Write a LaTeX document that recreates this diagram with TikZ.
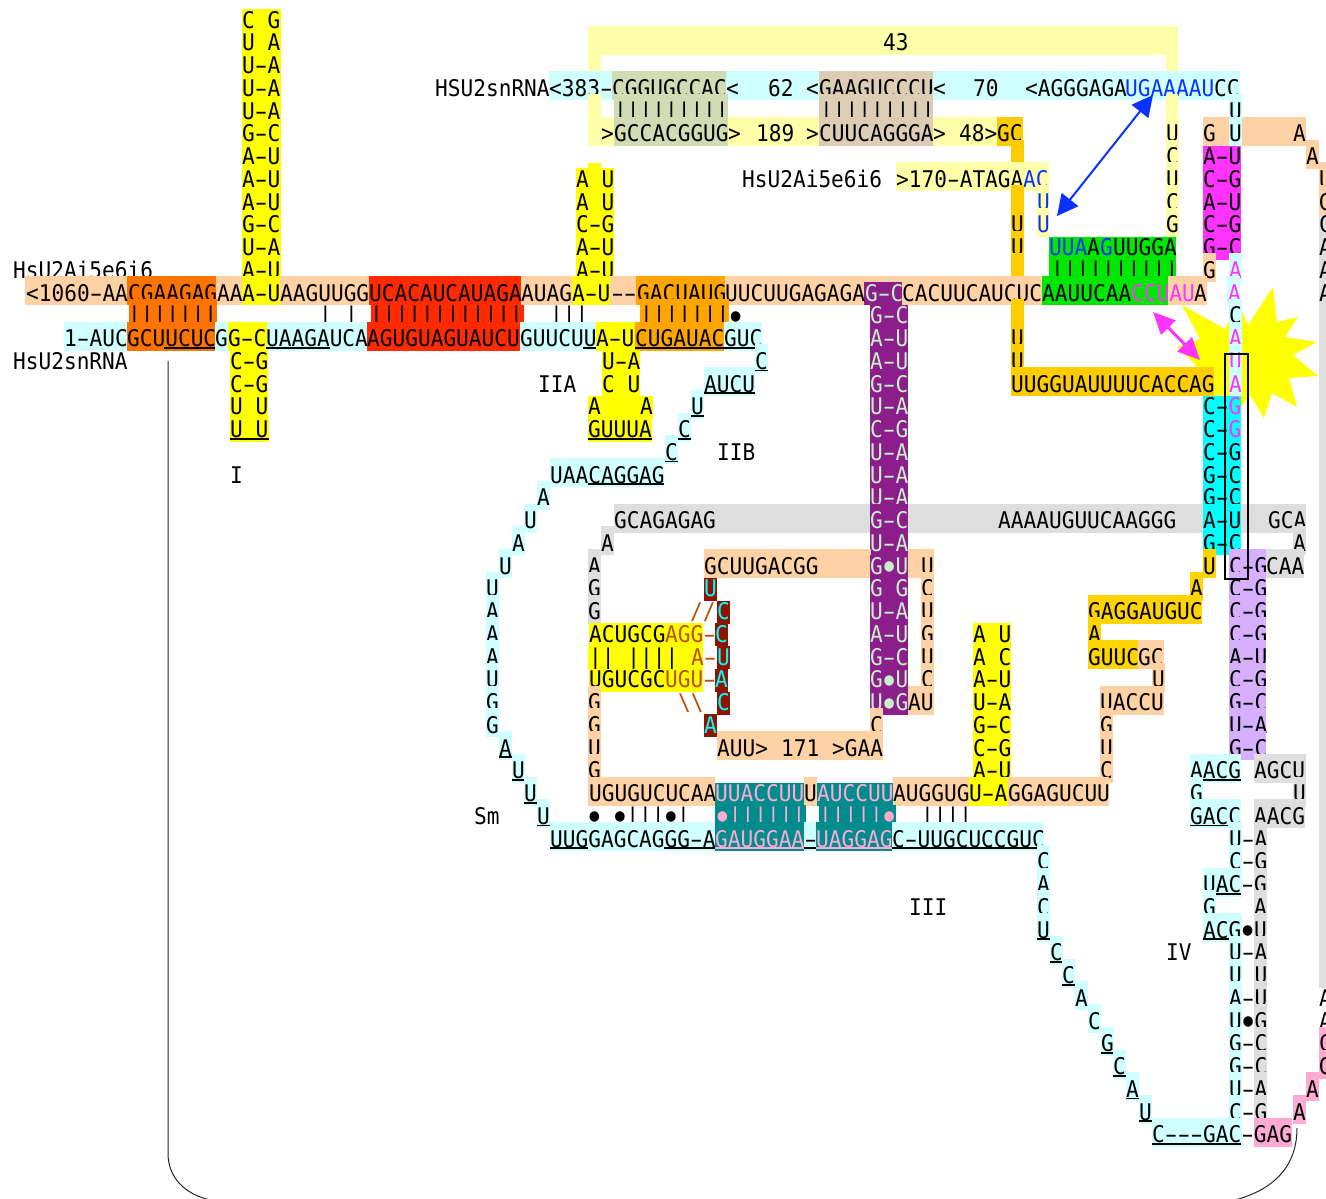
\documentclass[tikz,border=0pt]{standalone}
\usepackage{graphicx}
\usepackage{fontspec}
\usetikzlibrary{arrows.meta}
\newfontfamily\rnafont[FakeStretch=0.92]{DejaVu Sans Mono}
\definecolor{pea}{HTML}{FFD2A5}
\definecolor{pcy}{HTML}{D0FFFF}
\definecolor{ply}{HTML}{FFFFAA}
\definecolor{yel}{HTML}{FFFF00}
\definecolor{ora}{HTML}{FF7300}
\definecolor{red1}{HTML}{FF2A00}
\definecolor{orb}{HTML}{FFA500}
\definecolor{pur}{HTML}{8C1E8C}
\definecolor{pgr}{HTML}{C8F0C8}
\definecolor{sag}{HTML}{D2DCB4}
\definecolor{tan1}{HTML}{DCCDB4}
\definecolor{gol}{HTML}{FFCC00}
\definecolor{gob}{HTML}{FFD400}
\definecolor{mag}{HTML}{FF33FF}
\definecolor{cya}{HTML}{00FFFF}
\definecolor{grn}{HTML}{00E600}
\definecolor{dre}{HTML}{8C1400}
\definecolor{tea}{HTML}{008C8C}
\definecolor{pkc}{HTML}{FFAAD2}
\definecolor{gry}{HTML}{DEDEDE}
\definecolor{lpu}{HTML}{D7AFFF}
\definecolor{blu}{HTML}{0A32FF}
\definecolor{bro}{HTML}{B85000}
\newcounter{nn}
\tikzset{rna/.style={font=\rnafont\fontsize{22.96}{22.75}\selectfont,inner sep=0pt,anchor=base west}}
\newcommand\R[1]{\pgfmathsetmacro\ry{20+22.75*#1}}
\newcommand\bg[3]{\fill[#1] (#2,\ry-17) rectangle (#3,\ry+12);}
\newcommand\bh[3]{\fill[#1] (#2,\ry-11) rectangle (#3,\ry+12);}
% long dash: the hyphen of the strings is drawn wider, inside its own cell
\begingroup\catcode`\-=13
\gdef-{\makebox[12.72pt]{\scalebox{1.7}[1]{\char45}}}
\endgroup
\newcommand\B{\makebox[12.72pt]{\raisebox{2.6pt}{\scalebox{.76}{●}}}}
\newcommand\tx[2][black]{\def\txc{#1}\def\txx{#2}\begingroup\catcode`\-=13 \txi}
\newcommand\txi[1]{\endgroup\stepcounter{nn}\node[rna,text=\txc] (n\arabic{nn}) at (\txx,\ry+8.2) {#1};}
\newcommand\ul[3][black]{\fill[#1] (#2,\ry+8.4) rectangle (#3,\ry+10.2);}
\newcommand\cl[3]{\fill[#1] (#2,\ry-17) rectangle ({#2+12.8},\ry+12);\tx{#2}{#3}}
\newcommand\cu[3]{\cl{#1}{#2}{#3}\ul{#2}{#2+12.8}}
\newcommand\st{\bg{pcy}{1229}{1242}\bg{gry}{1254}{1267}\tx{1229}}
\begin{document}
\begin{tikzpicture}[x=1pt,y=-1pt]
\useasboundingbox (0,0) rectangle (1326,1199);
% starburst
\fill[yel] (1182,305)--(1225,329)--(1238,303)--(1248,325)--(1273,287)--(1277,322)--(1298,317)--(1285,337)--(1317,342)--(1293,355)--(1318,376)--(1289,378)--(1297,407)--(1272,393)--(1264,418)--(1250,395)--(1232,420)--(1222,395)--(1205,395)--(1196,365)--(1177,347)--(1200,339)--cycle;
% right grey strip
\fill[gry] (1319,208) rectangle (1326,988);
\R{0}\bh{yel}{242}{281}\tx{242}{C~G}
\R{1}\bg{ply}{588}{1178}\bh{yel}{242}{281}\tx{242}{U~A}\tx{883}{43}
\R{2}\bg{ply}{588}{601}\bg{ply}{1166}{1178}\bh{yel}{242}{281}\tx{242}{U-A}
\R{3}\tx{435}{HSU2snRNA}\bg{pcy}{549}{1240}\bg{sag}{612}{726}\bg{tan1}{819}{933}\bh{yel}{242}{281}\tx{242}{U-A}
\tx{549}{<383-}\tx{612}{CGGUGCCAC}\tx{726}{<}\tx{768}{62}\tx{806}{<}\tx{819}{GAAGUCCCU}\tx{933}{<}\tx{973}{70}\tx{1025}{<AGGGAGA}\tx[blu]{1125}{UGAAAAU}\tx{1214}{CC}
\R{4}\bh{yel}{242}{281}\tx{242}{U-A}\bg{ply}{588}{601}\bg{ply}{1166}{1178}\bg{sag}{614}{728}\bg{tan1}{819}{933}\tx{614}{|||||||||}\tx{820}{|||||||||}\cl{pcy}{1229}{U}
\R{5}\bh{yel}{242}{281}\tx{242}{G-C}\bg{ply}{588}{997}\bg{sag}{614}{728}\bg{tan1}{819}{933}\bg{gol}{997}{1023}\tx{601}{>}\tx{614}{GCCACGGUG}\tx{728}{>}\tx{756}{189}\tx{806}{>}\tx{819}{CUUCAGGGA}\tx{933}{>}\tx{959}{48>}\tx{997}{GC}\cl{ply}{1166}{U}\bg{pea}{1203}{1306}\tx{1203}{G}\cl{pcy}{1229}{U}\tx{1293}{A}
\R{6}\bh{yel}{242}{281}\tx{242}{A-U}\bg{gol}{1011}{1024}\cl{ply}{1166}{C}\bh{mag}{1203}{1241}\tx{1203}{A-U}\cl{pea}{1306}{A}\fill[yel] (588,163) rectangle (601,180);
\R{7}\bh{yel}{242}{281}\tx{242}{A-U}\tx{742}{HsU2Ai5e6i6}\bg{ply}{896}{1049}\tx{896}{>170-ATAGA}\tx[blu]{1023}{AC}\bh{yel}{576}{614}\tx{576}{A~U}\cl{ply}{1166}{U}\bh{mag}{1203}{1241}\tx{1203}{C-G}\cl{pea}{1319}{U}
\R{8}\bh{yel}{242}{281}\tx{242}{A-U}\bh{yel}{576}{614}\tx{576}{A~U}\bg{gol}{1011}{1024}\bg{ply}{1037}{1049}\tx[blu]{1037}{U}\cl{ply}{1166}{C}\bh{mag}{1203}{1241}\tx{1203}{A-U}\cl{pea}{1319}{G}
\R{9}\bh{yel}{242}{281}\tx{242}{G-C}\bh{yel}{576}{614}\tx{576}{C-G}\bg{gol}{1011}{1024}\tx{1011}{U}\bg{ply}{1037}{1049}\tx[blu]{1037}{U}\cl{ply}{1166}{G}\bh{mag}{1203}{1241}\tx{1203}{C-G}\tx{1319}{C}
\R{10}\bh{yel}{242}{281}\tx{242}{U-A}\bh{yel}{576}{614}\tx{576}{A-U}\bg{gol}{1011}{1024}\tx{1011}{U}\bh{grn}{1049}{1176}\tx[blu]{1049}{UUA}\tx{1087}{A}\tx[blu]{1100}{G}\tx{1113}{UUGGA}\bh{mag}{1203}{1241}\tx{1203}{G-C}\tx{1319}{A}
\R{11}\tx{13}{HsU2Ai5e6i6}\bh{yel}{242}{281}\tx{242}{A-U}\bh{yel}{576}{614}\tx{576}{A-U}\bg{gol}{1011}{1024}\bh{grn}{1049}{1176}\tx{1051}{||||||||||}\cl{pea}{1203}{G}\bg{pcy}{1229}{1242}\tx[mag]{1229}{A}\tx{1319}{A}
\R{12}\bg{pea}{25}{1207}\bg{ora}{127}{216}\bg{yel}{242}{280}\bg{red1}{369}{521}\bg{yel}{572}{610}\bg{orb}{636}{725}\bh{pur}{864}{902}\bg{grn}{1042}{1168}\bg{pcy}{1227}{1240}
\tx{26}{<1060-AA}\tx{128}{CGAAGAG}\tx{217}{AA}\tx{242}{A-U}\tx{280}{AAGUUGG}\tx{369}{UCACAUCAUAGA}\tx{521}{AUAG}\tx{572}{A-U}\tx{611}{--}\tx{637}{GACUAUG}\tx{725}{UUCUUGAGAGA}\tx[pgr]{865}{G-C}\tx{902}{CACUUCAUCUC}\tx{1042}{AAUUCAA}\tx[mag]{1131}{CCUAU}\tx{1194}{A}\tx[mag]{1228}{A}\tx{1319}{A}
\R{13}\bg{ora}{129}{217}\tx{128}{|||||||}\tx{319}{|}\tx{345}{|}\bh{red1}{371}{524}\tx{370}{||||||||||||}\tx{550}{|||}\bg{orb}{640}{729}\tx{640}{|||||||\B}\bh{pur}{870}{908}\tx[pgr]{870}{G-C}\bg{gol}{1011}{1024}\cl{pcy}{1229}{C}
\R{14}\bg{pcy}{64}{762}\bg{ora}{127}{215}\bg{yel}{228}{267}\bg{red1}{367}{520}\bg{yel}{596}{635}\bg{orb}{635}{724}\tx{64}{1-AUC}\tx{127}{GCUUCUC}\tx{215}{G}\tx{228}{G-C}\tx{266}{UAAGAUCA}\tx{367}{AGUGUAGUAUCU}\tx{520}{GUUCUU}\tx{596}{A-U}\tx{635}{CUGAUAC}\tx{724}{GUC}\ul{164}{215}\ul{266}{330}\ul{583}{596}\ul{635}{755}\bh{pur}{870}{908}\tx[pgr]{870}{A-U}\bg{gol}{1011}{1024}\tx{1011}{U}\bg{pcy}{1229}{1242}\tx[mag]{1229}{A}
\R{15}\tx{13}{HsU2snRNA}\bh{yel}{230}{268}\tx{230}{C-G}\bh{yel}{602}{640}\tx{602}{U-A}\cu{pcy}{755}{C}\bh{pur}{870}{908}\tx[pgr]{870}{A-U}\bg{gol}{1011}{1024}\tx{1011}{U}\bg{pcy}{1229}{1242}\tx[mag]{1229}{U}
\R{16}\bh{yel}{230}{268}\tx{230}{C-G}\tx{538}{IIA}\bh{yel}{602}{640}\tx{602}{C~U}\bg{pcy}{704}{755}\tx{704}{AUCU}\ul{704}{755}\bh{pur}{870}{908}\tx[pgr]{870}{G-C}\bg{gol}{1011}{1214}\tx{1011}{UUGGUAUUUUCACCAG}\bg{pcy}{1229}{1242}\tx[mag]{1229}{A}
\R{17}\bh{yel}{230}{268}\tx{230}{U~U}\bh{yel}{588}{653}\tx{588}{A}\tx{640}{A}\cu{pcy}{691}{U}\bh{pur}{870}{908}\tx[pgr]{870}{U-A}\bh{cya}{1203}{1241}\tx{1203}{C-}\tx[mag]{1228.4}{G}
\R{18}\bh{yel}{230}{269}\tx{230}{U~U}\ul{230}{269}\bh{yel}{588}{652}\tx{588}{GUUUA}\ul{588}{652}\cu{pcy}{678}{C}\bh{pur}{870}{908}\tx[pgr]{870}{C-G}\bh{cya}{1203}{1241}\tx{1203}{C-}\tx[mag]{1228.4}{G}
\R{19}\tx{717}{IIB}\cu{pcy}{665}{C}\bh{pur}{870}{908}\tx[pgr]{870}{U-A}\bh{cya}{1203}{1241}\tx{1203}{C-G}
\R{20}\tx{230}{I}\bg{pcy}{550}{664}\tx{550}{UAACAGGAG}\ul{588}{664}\bh{pur}{870}{908}\tx[pgr]{870}{U-A}\bh{cya}{1203}{1241}\tx{1203}{G-C}
\R{21}\cl{pcy}{537}{A}\bh{pur}{870}{908}\tx[pgr]{870}{U-A}\bh{cya}{1203}{1241}\tx{1203}{G-C}
\R{22}\cl{pcy}{524}{U}\bg{gry}{614}{1306}\tx{614}{GCAGAGAG}\bg{pur}{870}{908}\tx[pgr]{870}{G-C}\tx{998}{AAAAUGUUCAAGGG}\bg{cya}{1203}{1241}\tx{1203}{A-U}\tx{1268}{GCA}
\R{23}\cl{pcy}{512}{A}\cl{gry}{601}{A}\bh{pur}{870}{908}\tx[pgr]{870}{U-A}\bh{cya}{1203}{1241}\tx{1203}{G-C}\cl{gry}{1293}{A}
\R{24}\cl{pcy}{499}{U}\cl{gry}{588}{A}\bg{pea}{704}{871}\tx{704}{GCUUGACGG}\bh{pur}{870}{908}\tx[pgr]{870}{G\B U}\bg{pea}{908}{934}\tx{921}{U}\cl{gob}{1203}{U}\bg{lpu}{1229}{1266}\tx{1229}{C-G}\bg{gry}{1266}{1304}\tx{1266}{CAA}
\R{25}\cl{pcy}{486}{U}\cl{gry}{588}{G}\bh{dre}{704}{717}\tx[cya]{704}{U}\bh{pur}{870}{908}\tx[pgr]{870}{G~G}\cl{pea}{921}{C}\cl{gob}{1190}{A}\bg{lpu}{1229}{1266}\tx{1229}{C-G}
\R{26}\cl{pcy}{486}{A}\cl{gry}{588}{G}\tx[bro]{690}{//}\bh{dre}{717}{730}\tx[cya]{717}{C}\bh{pur}{870}{908}\tx[pgr]{870}{U-A}\cl{pea}{921}{U}\bg{gob}{1088}{1202}\tx{1088}{GAGGAUGUC}\bg{lpu}{1229}{1266}\tx{1229}{C-G}
\R{27}\cl{pcy}{486}{A}\bh{yel}{589}{703}\tx{589}{ACUGCG}\tx[bro]{665}{AGG-}\bh{dre}{715}{728}\tx[cya]{715}{C}\bh{pur}{870}{908}\tx[pgr]{870}{A-U}\cl{pea}{921}{G}\bh{yel}{973}{1011}\tx{973}{A~U}\cl{gob}{1088}{A}\bg{lpu}{1229}{1266}\tx{1229}{C-G}
\R{28}\cl{pcy}{486}{A}\bh{yel}{588}{703}\tx{589}{||~||||}\tx[bro]{691}{A-}\bh{dre}{717}{730}\tx[cya]{717}{U}\bh{pur}{870}{908}\tx[pgr]{870}{G-C}\cl{pea}{921}{U}\bh{yel}{973}{1011}\tx{973}{A~C}\bg{gob}{1088}{1138}\bg{pea}{1138}{1164}\tx{1088}{GUUC}\tx{1138}{GC}\bg{lpu}{1229}{1266}\tx{1229}{A-U}
\R{29}\cl{pcy}{486}{U}\bh{yel}{589}{703}\tx{589}{UGUCGC}\tx[bro]{665}{UGU-}\bh{dre}{715}{728}\tx[cya]{715}{A}\bh{pur}{870}{908}\tx[pgr]{870}{G\B U}\cl{pea}{921}{C}\bh{yel}{973}{1011}\tx{973}{A-U}\cl{pea}{1152}{U}\bg{lpu}{1229}{1266}\tx{1229}{C-G}
\R{30}\cl{pcy}{486}{G}\cl{pea}{588}{G}\tx[bro]{678}{\textbackslash\textbackslash}\bh{dre}{717}{730}\tx[cya]{717}{C}\bh{pur}{870}{908}\tx[pgr]{870}{U\B G}\bg{pea}{908}{934}\tx{908}{AU}\bh{yel}{973}{1011}\tx{973}{U-A}\bg{pea}{1100}{1164}\tx{1100}{UACCU}\bg{lpu}{1229}{1266}\tx{1229}{G-C}
\R{31}\cl{pcy}{486}{G}\cl{pea}{588}{G}\bh{dre}{704}{717}\tx[cya]{704}{A}\cl{pea}{870}{C}\bh{yel}{973}{1011}\tx{973}{G-C}\cl{pea}{1100}{G}\bg{lpu}{1229}{1266}\tx{1229}{U-A}
\R{32}\cu{pcy}{499}{A}\cl{pea}{588}{U}\bg{pea}{717}{883}\tx{717}{AUU>}\tx{781}{171}\tx{832}{>GAA}\bh{yel}{973}{1011}\tx{973}{C-G}\cl{pea}{1100}{U}\bg{lpu}{1229}{1266}\tx{1229}{G-C}
\R{33}\cu{pcy}{512}{U}\cl{pea}{588}{G}\bh{yel}{973}{1011}\tx{973}{A-U}\cl{pea}{1100}{C}\bg{pcy}{1190}{1241}\tx{1190}{AACG}\ul{1203}{1241}\bg{gry}{1254}{1306}\tx{1254}{AGCU}
\R{34}\cu{pcy}{524}{U}\bg{pea}{588}{715}\tx{589}{UGUGUCUCAA}\bh{tea}{715}{804}\tx[pkc]{715}{UUACCUU}\bg{pea}{804}{817}\tx{804}{U}\bh{tea}{817}{893}\tx[pkc]{817}{AUCCUU}\bg{pea}{893}{1109}\tx{893}{AUGGUG}\bg{yel}{969}{1008}\tx{969}{U-A}\tx{1008}{GGAGUCUU}\cl{pcy}{1190}{G}\cl{gry}{1293}{U}
\R{35}\tx{474}{Sm}\cu{pcy}{537}{U}\tx{588}{\B~\B|||\B|}\bh{tea}{715}{806}\tx[pkc]{716}{\B||||||}\bh{tea}{819}{896}\tx[pkc]{819}{|||||\B}\tx{921}{||||}\bg{pcy}{1190}{1241}\tx{1190}{GACC}\ul{1190}{1228}\bg{gry}{1254}{1305}\tx{1254}{AACG}
\R{36}\bg{pcy}{550}{1044}\bg{tea}{715}{804}\bg{tea}{816}{892}\tx{550}{UUGGAGCAGGG-A}\tx[pkc]{715}{GAUGGAA}\tx{804}{-}\tx[pkc]{816}{UAGGAG}\tx{892}{C-UUGCUCCGUC}\ul{550}{588}\ul{664}{715}\ul[pkc]{715}{804}\ul{804}{816}\ul[pkc]{816}{892}\ul{892}{1037}\st{U-A}
\R{37}\cl{pcy}{1037}{C}\st{C-G}
\R{38}\cl{pcy}{1037}{A}\bg{pcy}{1203}{1242}\bg{gry}{1254}{1267}\tx{1203}{UAC-G}\ul{1216}{1241}
\R{39}\cl{pcy}{1037}{C}\tx{909}{III}\cl{pcy}{1203}{G}\cl{gry}{1254}{A}
\R{40}\cu{pcy}{1037}{U}\bg{pcy}{1203}{1242}\bg{gry}{1254}{1267}\tx{1203}{ACG\B U}\ul{1203}{1229}
\R{41}\cu{pcy}{1050}{C}\tx{1166}{IV}\st{U-A}
\R{42}\cu{pcy}{1062}{C}\st{U~U}
\R{43}\cl{pcy}{1075}{A}\st{A-U}\tx{1319}{A}
\R{44}\cl{pcy}{1088}{C}\st{U\B G}\tx{1319}{A}
\R{45}\cu{pcy}{1101}{G}\st{G-C}\cl{pkc}{1319}{C}
\R{46}\cu{pcy}{1113}{C}\st{G-C}\cl{pkc}{1319}{G}
\R{47}\cu{pcy}{1126}{A}\st{U-A}\cl{pkc}{1306}{A}
\R{48}\cu{pcy}{1139}{U}\st{C-G}\cl{pkc}{1293}{A}
\R{49}\bg{pcy}{1152}{1242}\bg{pkc}{1254}{1292}\tx{1152}{C---GAC-GAG}\ul{1152}{1241}
% frame lines
\coordinate (fa) at (168,361);\coordinate (fb) at (168,1153);\coordinate (fc) at (210,1200);\coordinate (fd) at (1235,1200);\coordinate (fe) at (1297,1128);
\draw[line width=1pt,black!85] (fa)--(fb) .. controls (168,1178) and (185,1194) .. (fc) -- (fd) .. controls (1272,1190) and (1297,1168) .. (fe);
% box
\coordinate (ba) at (1225,354);\coordinate (bb) at (1248,579);
\draw[black,line width=1.5pt] (ba) rectangle (bb);
% arrows
\coordinate (a1) at (1153,95);\coordinate (a2) at (1057,216);
\draw[blu,line width=2pt,{Triangle[length=21pt,width=21pt]}-{Triangle[length=21pt,width=21pt]}] (a1)--(a2);
\coordinate (m1) at (1153,312);\coordinate (m2) at (1200,360);
\draw[mag,line width=3pt,{Triangle[length=22pt,width=20pt]}-{Triangle[length=22pt,width=20pt]}] (m1)--(m2);
\end{tikzpicture}
\end{document}
